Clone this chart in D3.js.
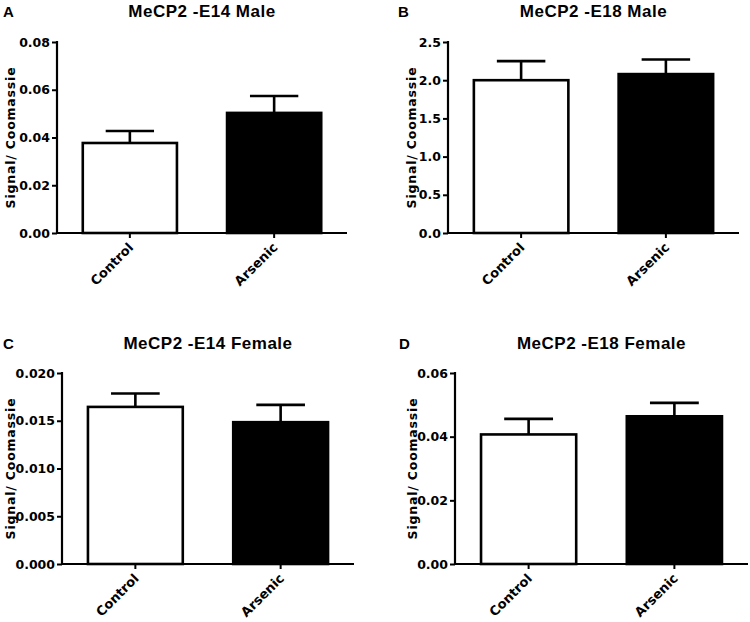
<!DOCTYPE html>
<html>
<head>
<meta charset="utf-8">
<script src="https://cdn.jsdelivr.net/npm/d3@7"></script>
<style>
  html, body { margin: 0; padding: 0; background: #fff; }
  svg { display: block; }
</style>
</head>
<body>
<svg id="chart" width="750" height="622"></svg>
<script>
// ---- data ----
const categories = ["Control", "Arsenic"];
const panelLetters = ["A", "B", "C", "D"];
const panelTitles = ["MeCP2 -E14 Male", "MeCP2 -E18 Male", "MeCP2 -E14 Female", "MeCP2 -E18 Female"];
const yLabel = "Signal/ Coomassie";

const meansA = [0.0377, 0.0503];
const semsA  = [0.0050, 0.0071];
const meansB = [2.00, 2.08];
const semsB  = [0.25, 0.19];
const meansC = [0.01645, 0.01485];
const semsC  = [0.00140, 0.00181];
const meansD = [0.0407, 0.0464];
const semsD  = [0.0049, 0.0042];

const yTicksA = [0, 0.02, 0.04, 0.06, 0.08];
const yTicksB = [0, 0.5, 1.0, 1.5, 2.0, 2.5];
const yTicksC = [0, 0.005, 0.010, 0.015, 0.020];
const yTicksD = [0, 0.02, 0.04, 0.06];
const yFormats = [".2f", ".1f", ".3f", ".2f"];

const barFills = ["#ffffff", "#000000"];

// ---- layout (pixels) ----
const layouts = [
  { x0: 57,  x1: 347, yTop: 42,  yBot: 233, labelX: 15,  letterX: 3,   letterY: 17,  titleY: 17 },
  { x0: 448, x1: 739, yTop: 42,  yBot: 233, labelX: 416, letterX: 398, letterY: 17,  titleY: 17 },
  { x0: 62,  x1: 354, yTop: 373, yBot: 564, labelX: 15,  letterX: 3,   letterY: 349, titleY: 349 },
  { x0: 455, x1: 748, yTop: 373, yBot: 564, labelX: 417, letterX: 399, letterY: 349, titleY: 349 }
];

const panels = [
  { means: meansA, sems: semsA, ticks: yTicksA },
  { means: meansB, sems: semsB, ticks: yTicksB },
  { means: meansC, sems: semsC, ticks: yTicksC },
  { means: meansD, sems: semsD, ticks: yTicksD }
];

const svg = d3.select("#chart");
const tickFont = "'DejaVu Sans', sans-serif";
const titleFont = "'Liberation Sans', Arial, sans-serif";

panels.forEach((p, i) => {
  const L = layouts[i];
  const g = svg.append("g");
  const yMax = p.ticks[p.ticks.length - 1];

  const x = d3.scaleBand().domain(categories).range([L.x0, L.x1])
    .paddingInner(0.33).paddingOuter(0.17);
  const y = d3.scaleLinear().domain([0, yMax]).range([L.yBot, L.yTop]);

  // bars
  g.selectAll("rect.bar").data(categories).enter().append("rect")
    .attr("class", "bar")
    .attr("x", d => x(d) + 1.25)
    .attr("width", x.bandwidth() - 2.5)
    .attr("y", (d, j) => y(p.means[j]))
    .attr("height", (d, j) => L.yBot - y(p.means[j]))
    .attr("fill", (d, j) => barFills[j])
    .attr("stroke", "#000")
    .attr("stroke-width", 2.6);

  // error bars (upper only)
  const cap = x.bandwidth() / 4;
  categories.forEach((c, j) => {
    const cx = x(c) + x.bandwidth() / 2;
    g.append("line")
      .attr("x1", cx).attr("x2", cx)
      .attr("y1", y(p.means[j])).attr("y2", y(p.means[j] + p.sems[j]))
      .attr("stroke", "#000").attr("stroke-width", 2.6);
    g.append("line")
      .attr("x1", cx - cap).attr("x2", cx + cap)
      .attr("y1", y(p.means[j] + p.sems[j])).attr("y2", y(p.means[j] + p.sems[j]))
      .attr("stroke", "#000").attr("stroke-width", 2.6);
  });

  // y axis
  const yAxis = d3.axisLeft(y).tickValues(p.ticks).tickFormat(d3.format(yFormats[i]))
    .tickSizeInner(5).tickSizeOuter(0).tickPadding(2);
  const ya = g.append("g").attr("transform", `translate(${L.x0},0)`).call(yAxis);
  ya.attr("font-size", null).attr("font-family", null);
  ya.select(".domain").attr("stroke-width", 2.2).attr("d", `M0,${L.yTop - 1}V${L.yBot}`);
  ya.selectAll(".tick line").attr("stroke-width", 2);
  ya.selectAll(".tick text")
    .style("font-family", tickFont).style("font-weight", "bold")
    .style("font-size", "12.5px").attr("fill", "#000");

  // x axis
  const xAxis = d3.axisBottom(x).tickSizeInner(5).tickSizeOuter(0).tickPadding(4);
  const xa = g.append("g").attr("transform", `translate(0,${L.yBot})`).call(xAxis);
  xa.attr("font-size", null).attr("font-family", null);
  xa.select(".domain").attr("stroke-width", 2.2).attr("d", `M${L.x0 - 1},0H${L.x1}`);
  xa.selectAll(".tick line").attr("stroke-width", 2);
  xa.selectAll(".tick text")
    .style("font-family", tickFont).style("font-weight", "bold")
    .style("font-size", "13px").attr("fill", "#000")
    .attr("text-anchor", "end")
    .attr("dy", "0.35em")
    .attr("transform", "translate(1,12) rotate(-45)")
    .attr("y", 0).attr("x", 0);

  // y label
  g.append("text")
    .attr("transform", `translate(${L.labelX},${(L.yTop + L.yBot) / 2}) rotate(-90)`)
    .attr("text-anchor", "middle")
    .style("font-family", tickFont).style("font-weight", "bold")
    .style("font-size", "12.5px").attr("letter-spacing", "0.8px")
    .text(yLabel);

  // title
  g.append("text")
    .attr("x", (L.x0 + L.x1) / 2).attr("y", L.titleY)
    .attr("text-anchor", "middle")
    .style("font-family", titleFont).style("font-weight", "bold")
    .style("font-size", "17px").attr("letter-spacing", "0.5px")
    .text(panelTitles[i]);

  // panel letter
  g.append("text")
    .attr("x", L.letterX).attr("y", L.letterY)
    .style("font-family", titleFont).style("font-weight", "bold")
    .style("font-size", "15px")
    .text(panelLetters[i]);
});
</script>
</body>
</html>
